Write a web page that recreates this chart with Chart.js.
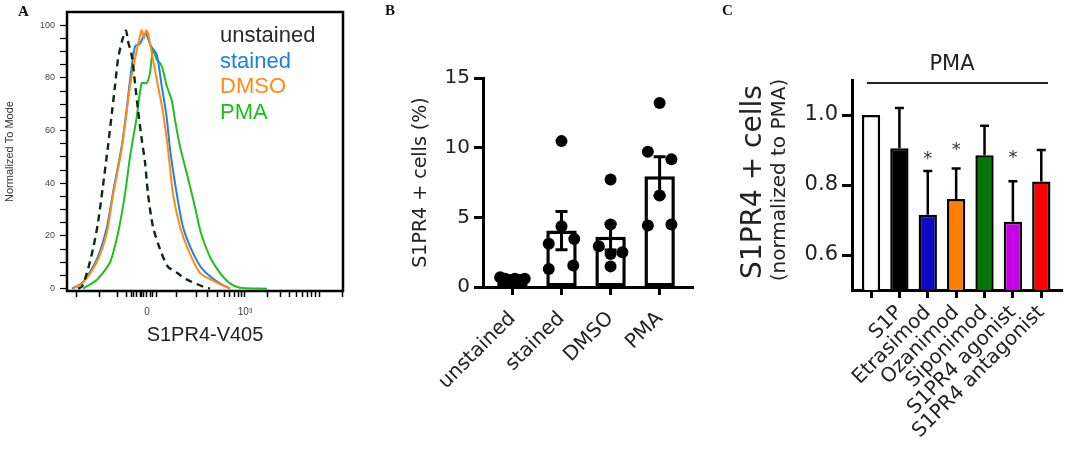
<!DOCTYPE html>
<html><head><meta charset="utf-8">
<script src="https://cdn.jsdelivr.net/npm/chart.js@4.4.1/dist/chart.umd.min.js"></script>
<style>
html,body{margin:0;padding:0;background:#fff;}
#wrap{position:relative;width:1065px;height:452px;overflow:hidden;background:#fff;}
canvas{position:absolute;left:0;top:0;}
.t{position:absolute;white-space:nowrap;line-height:1;}
</style></head><body>
<div id="wrap">
<canvas id="cA" width="1065" height="452"></canvas>
<canvas id="cB" width="1065" height="452"></canvas>
<canvas id="cC" width="1065" height="452"></canvas>
<div class="t" style="left:18px;top:3px;font:bold 15px 'Liberation Serif';color:#111">A</div>
<div class="t" style="left:385px;top:2px;font:bold 15px 'Liberation Serif';color:#111">B</div>
<div class="t" style="left:722px;top:2px;font:bold 15px 'Liberation Serif';color:#111">C</div>
<div class="t" style="left:952px;top:51px;transform:translateX(-50%);font:21px 'DejaVu Sans';color:#222">PMA</div>
<div style="position:absolute;left:867px;top:82px;width:181px;height:2px;background:#222"></div>
<div class="t" style="left:751px;top:182px;transform:translate(-50%,-50%) rotate(-90deg);font:28px 'DejaVu Sans';color:#222">S1PR4 + cells</div>
<div class="t" style="left:778px;top:180px;transform:translate(-50%,-50%) rotate(-90deg);font:20px 'DejaVu Sans';color:#222">(normalized to PMA)</div>
</div>
<script>
// ---------- Panel A: histograms ----------
const histSeries = ['unstained', 'stained', 'DMSO', 'PMA'];
const unstained = [[-704,0],[-663,0.8],[-612,6],[-551,15],[-500,25],[-449,39],[-398,54],[-357,67],[-326,77],[-296,87],[-255,94],[-214,98],[-194,94],[-153,88],[-122,78],[-92,68],[-51,56],[-20,48],[10,36],[61,23.5],[133,15],[214,8.3],[306,6],[408,3.4],[571,0.8],[643,0]];
const stained = [[-765,0],[-653,2.5],[-513,11],[-411,23],[-344,37],[-258,54],[-214,66],[-173,79],[-122,92],[-71,93],[-31,96],[-10,97],[10,95],[41,92],[99,89],[150,77],[201,65],[235,53],[286,40],[367,23.5],[469,13.6],[571,7.2],[714,2.7],[847,0]];
const dmso = [[-755,0],[-653,2.3],[-513,10],[-411,21],[-344,36],[-258,53],[-214,65],[-173,77],[-112,89],[-54,98],[-30,95],[-10,98],[10,97],[31,93],[61,87],[112,77],[163,67],[214,53],[265,36],[337,23.5],[418,15],[541,6],[714,2.3],[847,0]];
const pma = [[-653,0],[-510,3.4],[-377,10],[-296,21],[-224,36],[-173,50],[-105,65],[-54,78],[-3,78],[31,82],[61,90.5],[99,87],[133,85.6],[163,83],[201,77],[252,71.6],[286,64],[337,54],[418,42],[490,31],[551,21],[643,12],[745,6],[847,2],[949,0.3],[1224,0]];
const histData = [unstained, stained, dmso, pma];
const histColors = ['#0e2a12', '#2280e0', '#ff8a14', '#20bf20'];
const legendColors = ['#2a2a2a', '#1f7fe0', '#ff8a14', '#18c018'];
const histOrder = [0, 2, 1, 3];
const aYTicks = [0,5,10,15,20,25,30,35,40,45,50,55,60,65,70,75,80,85,90,95,100];
const aYLabelValues = [0,20,40,60,80,100];
const aXTicks = [-717,-480,-296,-204,-163,-133,-102,-71,-51,-31,0,31,61,102,306,510,622,724,790,847,892,933,969,1000,1230,1365,1459,1530,1591,1642,1683,1724,1765,1990];
const aXLabelValues = [0, 1000];
const aXLabelText = ['0', '10\u00B3'];

// ---------- Panel B ----------
const bCats = ['unstained', 'stained', 'DMSO', 'PMA'];
const bMeans = [0.55, 4.05, 3.6, 7.95];
const bSem = [0.05, 1.37, 0.95, 1.4];
const bPoints = [[0.7,0.6,0.5,0.6,0.5,0.6],[10.47,4.36,3.1,3.45,1.29,1.55],[7.71,4.48,2.92,2.49,2.37,1.48],[13.2,9.71,9.16,6.57,4.41,4.48]];
const bJitter = [[-0.25,-0.15,-0.05,0.05,0.15,0.25],[0,0,-0.26,0.26,-0.26,0.24],[0,0,-0.24,0.24,0,0],[0,-0.24,0.24,0,-0.24,0.24]];
const bYTicks = [0, 5, 10, 15];

// ---------- Panel C ----------
const cCats = ['', 'S1P', 'Etrasimod', 'Ozanimod', 'Siponimod', 'S1PR4 agonist', 'S1PR4 antagonist'];
const cMeans = [1.0, 0.905, 0.715, 0.76, 0.885, 0.695, 0.81];
const cErr = [0, 0.115, 0.125, 0.087, 0.084, 0.116, 0.09];
const cStars = [null, null, 0.893, 0.917, null, 0.895, null];
const cColors = ['#ffffff', '#000000', '#0a0ac8', '#ff8000', '#077507', '#c800e8', '#ff0000'];
const cYTicks = [0.6, 0.8, 1.0];

Chart.defaults.font.family = "'Liberation Sans', Arial, sans-serif";
Chart.defaults.animation = false;

// legend of panel A (HTML text)
const wrap = document.getElementById('wrap');
histSeries.forEach((name, i) => {
  const d = document.createElement('div');
  d.className = 't';
  d.textContent = name;
  d.style.cssText = `left:220px;top:${22 + i * 25.5}px;font:22px 'Liberation Sans';color:${legendColors[i]}`;
  wrap.appendChild(d);
});

const boxPlugin = {
  id: 'box',
  afterDraw(chart) {
    const {ctx, chartArea: a} = chart;
    ctx.save(); ctx.strokeStyle = '#000'; ctx.lineWidth = 2.5;
    ctx.strokeRect(a.left, a.top, a.right - a.left, a.bottom - a.top);
    ctx.restore();
  }
};

function makeErrPlugin(cfg) {
  return {
    id: 'errbars_' + Math.random().toString(36).slice(2),
    afterDatasetsDraw(chart) {
      const {ctx} = chart; const x = chart.scales.x, y = chart.scales.y;
      ctx.save(); ctx.strokeStyle = '#000'; ctx.lineWidth = cfg.lineWidth;
      cfg.means.forEach((m, i) => {
        const e = cfg.errors[i]; if (!e) return;
        const cx = x.getPixelForValue(i);
        const yt = y.getPixelForValue(m + e);
        const yb = y.getPixelForValue(cfg.both ? m - e : m);
        ctx.beginPath();
        ctx.moveTo(cx, yb); ctx.lineTo(cx, yt);
        ctx.moveTo(cx - cfg.cap / 2, yt); ctx.lineTo(cx + cfg.cap / 2, yt);
        if (cfg.both) { ctx.moveTo(cx - cfg.cap / 2, yb); ctx.lineTo(cx + cfg.cap / 2, yb); }
        ctx.stroke();
      });
      if (cfg.stars) {
        const size = 18;
        ctx.fillStyle = '#333'; ctx.font = size + "px 'DejaVu Sans'";
        ctx.textAlign = 'center'; ctx.textBaseline = 'alphabetic';
        cfg.stars.forEach((s, i) => {
          if (s == null) return;
          ctx.fillText('*', x.getPixelForValue(i), y.getPixelForValue(s) + 0.62 * size);
        });
      }
      ctx.restore();
    }
  };
}

// ---------- Chart A ----------
new Chart(document.getElementById('cA'), {
  type: 'line',
  data: {
    datasets: histSeries.map((name, i) => ({
      label: name,
      data: histData[i].map(p => ({x: p[0], y: p[1]})),
      borderColor: histColors[i],
      borderWidth: i === 0 ? 2.4 : 2,
      borderDash: i === 0 ? [7, 5] : [],
      pointRadius: 0, tension: 0.25, fill: false,
      order: histOrder[i]
    }))
  },
  options: {
    responsive: false, animation: false, events: [],
    layout: {padding: {left: 0, top: 12, right: 722, bottom: 105}},
    plugins: {legend: {display: false}, tooltip: {enabled: false}},
    scales: {
      x: {
        type: 'linear', min: -816, max: 2000,
        afterBuildTicks: s => { s.ticks = aXTicks.map(v => ({value: v})); },
        afterFit: s => { s.height = 56; },
        ticks: {
          autoSkip: false, maxRotation: 0, minRotation: 0, padding: 9, color: '#444',
          font: {size: 10},
          callback: v => { const k = aXLabelValues.indexOf(v); return k >= 0 ? aXLabelText[k] : ''; }
        },
        grid: {drawOnChartArea: false, tickLength: 6, tickColor: '#000', tickWidth: 1.5},
        border: {display: false},
        title: {display: true, text: 'S1PR4-V405', color: '#222', font: {size: 20}, padding: {top: 0, bottom: 0}}
      },
      y: {
        min: -0.9, max: 105,
        afterBuildTicks: s => { s.ticks = aYTicks.map(v => ({value: v})); },
        afterFit: s => { s.width = 67; },
        ticks: {
          autoSkip: false, padding: 5, color: '#444', font: {size: 9},
          callback: v => aYLabelValues.includes(v) ? String(v) : ''
        },
        grid: {drawOnChartArea: false, tickLength: 7, tickColor: '#000', tickWidth: 1.2},
        border: {display: false},
        title: {display: true, text: 'Normalized To Mode', color: '#333', font: {size: 11}, padding: {top: 3, bottom: 0}}
      }
    }
  },
  plugins: [boxPlugin]
});

// ---------- Chart B ----------
const bScatter = [];
bPoints.forEach((arr, i) => arr.forEach((v, j) => bScatter.push({x: i + bJitter[i][j], y: v})));
new Chart(document.getElementById('cB'), {
  type: 'bar',
  data: {
    datasets: [
      {
        type: 'scatter', data: bScatter, pointRadius: 6, pointBackgroundColor: '#000',
        pointBorderWidth: 0, backgroundColor: '#000', order: 0, clip: false
      },
      {
        type: 'bar', data: bMeans.map((v, i) => ({x: i, y: v})),
        backgroundColor: '#fff', borderColor: '#000', borderWidth: 3.5, borderSkipped: false,
        barPercentage: 0.62, categoryPercentage: 1, order: 1
      }
    ]
  },
  options: {
    responsive: false, animation: false, events: [],
    layout: {padding: {left: 400, top: 78, right: 372, bottom: 5}},
    plugins: {legend: {display: false}, tooltip: {enabled: false}},
    scales: {
      x: {
        type: 'linear', min: -0.6, max: 3.68, offset: false,
        afterBuildTicks: s => { s.ticks = bCats.map((c, i) => ({value: i})); },
        afterFit: s => { s.height = 160; },
        ticks: {
          autoSkip: false, minRotation: 45, maxRotation: 45, padding: 12, color: '#222',
          font: {size: 20, family: "'DejaVu Sans'"},
          callback: v => bCats[v] ?? ''
        },
        grid: {offset: false, drawOnChartArea: false, tickLength: 8, tickColor: '#000', tickWidth: 3},
        border: {display: true, color: '#000', width: 3}
      },
      y: {
        min: 0, max: 15,
        afterBuildTicks: s => { s.ticks = bYTicks.map(v => ({value: v})); },
        afterFit: s => { s.width = 83; },
        ticks: {padding: 4, color: '#222', font: {size: 20, family: "'DejaVu Sans'"}},
        grid: {drawOnChartArea: false, tickLength: 9, tickColor: '#000', tickWidth: 3},
        border: {display: true, color: '#000', width: 3},
        title: {display: true, text: 'S1PR4 + cells (%)', color: '#222', font: {size: 19, family: "'DejaVu Sans'"}, padding: {top: 10, bottom: 0}}
      }
    }
  },
  plugins: [makeErrPlugin({means: bMeans, errors: bSem, both: true, cap: 12, lineWidth: 3})]
});

// ---------- Chart C ----------
new Chart(document.getElementById('cC'), {
  type: 'bar',
  data: {
    datasets: [{
      data: cMeans.map((v, i) => ({x: i, y: v})),
      backgroundColor: cColors, borderColor: '#000', borderWidth: 2.5, borderSkipped: false,
      barPercentage: 0.645, categoryPercentage: 1
    }]
  },
  options: {
    responsive: false, animation: false, events: [],
    layout: {padding: {left: 737, top: 80, right: 3, bottom: 2}},
    plugins: {legend: {display: false}, tooltip: {enabled: false}},
    scales: {
      x: {
        type: 'linear', min: -0.67, max: 6.73, offset: false,
        afterBuildTicks: s => { s.ticks = cCats.map((c, i) => ({value: i})); },
        afterFit: s => { s.height = 160; },
        ticks: {
          autoSkip: false, minRotation: 45, maxRotation: 45, padding: 3, color: '#222',
          font: {size: 20, family: "'DejaVu Sans'"},
          callback: v => cCats[v] ?? ''
        },
        grid: {offset: false, drawOnChartArea: false, tickLength: 8, tickColor: '#000', tickWidth: 3},
        border: {display: true, color: '#000', width: 3}
      },
      y: {
        min: 0.5, max: 1.1,
        afterBuildTicks: s => { s.ticks = cYTicks.map(v => ({value: v})); },
        afterFit: s => { s.width = 115; },
        ticks: {padding: 4, color: '#222', font: {size: 21, family: "'DejaVu Sans'"}, callback: v => v.toFixed(1)},
        grid: {drawOnChartArea: false, tickLength: 10, tickColor: '#000', tickWidth: 3},
        border: {display: true, color: '#000', width: 3}
      }
    }
  },
  plugins: [makeErrPlugin({means: cMeans, errors: cErr, both: false, cap: 9, lineWidth: 2.5, stars: cStars})]
});
</script>
</body></html>
